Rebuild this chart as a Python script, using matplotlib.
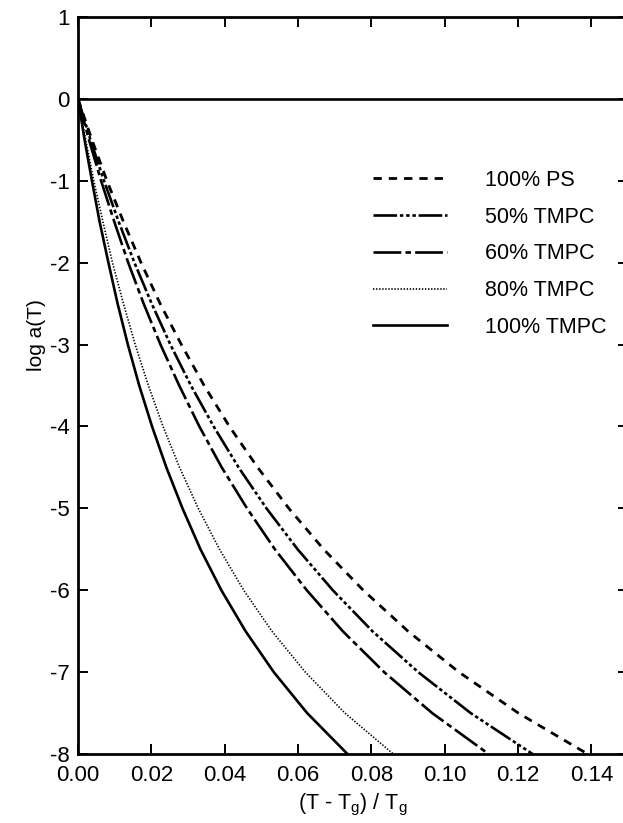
import matplotlib
matplotlib.use('Agg')
import matplotlib.pyplot as plt

plt.rcParams['font.family'] = ['Liberation Sans', 'DejaVu Sans']
plt.rcParams['axes.unicode_minus'] = False
plt.rcParams['lines.scale_dashes'] = False
plt.rcParams['mathtext.default'] = 'regular'

# log a(T) levels and the reduced temperature (T - Tg)/Tg read at each level
log_aT = [0, -0.5, -1, -1.5, -2, -2.5, -3, -3.5, -4,
          -4.5, -5, -5.5, -6, -6.5, -7, -7.5, -8]
x_ps = [0, 0.0038, 0.0079, 0.0124, 0.0172, 0.0224, 0.0282, 0.0344, 0.0413,
        0.0490, 0.0575, 0.0670, 0.0778, 0.0900, 0.1039, 0.1201, 0.1390]
x_50 = [0, 0.0034, 0.0071, 0.0111, 0.0154, 0.0201, 0.0252, 0.0308, 0.0370,
        0.0438, 0.0514, 0.0599, 0.0695, 0.0803, 0.0928, 0.1071, 0.1240]
x_60 = [0, 0.0030, 0.0063, 0.0099, 0.0137, 0.0179, 0.0225, 0.0276, 0.0331,
        0.0392, 0.0461, 0.0537, 0.0624, 0.0722, 0.0835, 0.0966, 0.1120]
x_80 = [0, 0.0021, 0.0043, 0.0068, 0.0094, 0.0124, 0.0156, 0.0192, 0.0232,
        0.0277, 0.0328, 0.0386, 0.0452, 0.0529, 0.0620, 0.0728, 0.0860]
x_100 = [0, 0.0018, 0.0038, 0.0059, 0.0083, 0.0108, 0.0136, 0.0167, 0.0202,
         0.0241, 0.0285, 0.0334, 0.0391, 0.0457, 0.0534, 0.0625, 0.0735]

series_labels = ['100% PS', '50% TMPC', '60% TMPC', '80% TMPC', '100% TMPC']
xticks = [0.00, 0.02, 0.04, 0.06, 0.08, 0.10, 0.12, 0.14]
yticks = [-8, -7, -6, -5, -4, -3, -2, -1, 0, 1]

fig = plt.figure(figsize=(6.23, 8.23), dpi=100)
ax = fig.add_axes([0.1252, 0.0838, 0.8828, 0.8955])

ax.axhline(0, color='black', lw=1.9, zorder=3)

styles = [
    dict(ls=(0, (6, 5)), lw=2.0),
    dict(ls=(0, (17, 2, 2.5, 2, 2.5, 2, 2.5, 2)), lw=1.9),
    dict(ls=(0, (20, 3, 4, 3)), lw=1.9),
    dict(ls=(0, (1, 1.2)), lw=1.2),
    dict(ls='-', lw=1.9),
]
for xs, lab, st in zip([x_ps, x_50, x_60, x_80, x_100], series_labels, styles):
    ax.plot(xs, log_aT, color='black', label=lab, **st)

ax.set_xlim(0, 0.15)
ax.set_ylim(-8, 1)
ax.set_xticks(xticks)
ax.set_xticklabels([f'{v:.2f}' for v in xticks])
ax.set_yticks(yticks)
ax.set_yticklabels([str(v) for v in yticks])

for s in ax.spines.values():
    s.set_linewidth(2.0)
ax.tick_params(direction='in', length=7, width=1.4, top=True, right=True,
               labelsize=16)
ax.tick_params(axis='x', pad=8)
ax.tick_params(axis='y', pad=6)

ax.set_xlabel('(T - T$_g$) / T$_g$', fontsize=15.5, labelpad=4)
ax.set_ylabel('log a(T)', fontsize=15)
ax.yaxis.set_label_coords(-0.058, 0.568)

leg = ax.legend(loc='upper left', bbox_to_anchor=(0.599, 0.7934),
                bbox_transform=fig.transFigure, frameon=False,
                fontsize=15.5, handlelength=3.43, handletextpad=1.77,
                labelspacing=0.73, borderpad=0, borderaxespad=0)

fig.savefig('out.png', dpi=100)
